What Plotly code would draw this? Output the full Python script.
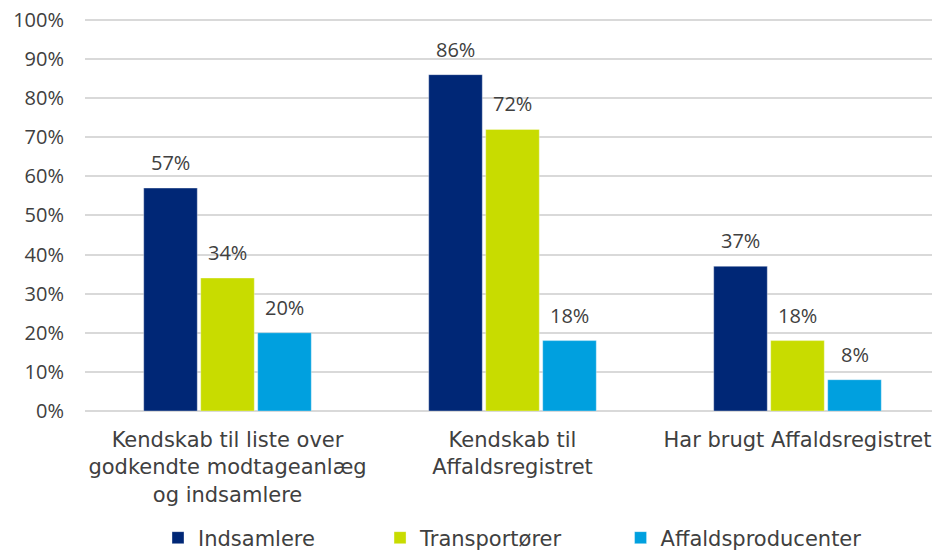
import plotly.graph_objects as go

categories = [
    "Kendskab til liste over<br>godkendte modtageanlæg<br>og indsamlere",
    "Kendskab til<br>Affaldsregistret",
    "Har brugt Affaldsregistret",
]
series_names = ["Indsamlere", "Transportører", "Affaldsproducenter"]
indsamlere = [57, 86, 37]
transportoerer = [34, 72, 18]
affaldsproducenter = [20, 18, 8]
series_values = [indsamlere, transportoerer, affaldsproducenter]
colors = ["#002776", "#C8DC00", "#00A0DF"]
y_ticks = [0, 10, 20, 30, 40, 50, 60, 70, 80, 90, 100]
y_tick_labels = [f"{t}%" for t in y_ticks]

NUM_FONT = "Open Sans"
TXT_FONT = "DejaVu Sans"
TXT = "#404040"
BARGAP = 0.40
n_series = len(series_names)
pad = ["\u00a0" * 9, "\u00a0" * 8, ""]

# page body has an 8px margin: figure is drawn 8px right/down
W, H = 932, 543

fig = go.Figure()
for j, (name, vals, col) in enumerate(zip(series_names, series_values, colors)):
    fig.add_trace(go.Bar(
        x=categories, y=vals, name=name + pad[j],
        marker=dict(color=col, line=dict(color="rgba(255,255,255,0.35)", width=1)),
    ))

slot = (1 - BARGAP) / n_series
annotations = []
for j, vals in enumerate(series_values):
    for i, v in enumerate(vals):
        annotations.append(dict(
            x=i + (j - (n_series - 1) / 2) * slot, y=v, xref="x", yref="y",
            text=f"{v}%", showarrow=False, yanchor="bottom", yshift=10,
            font=dict(family=NUM_FONT, size=20, color=TXT),
        ))

fig.update_layout(
    width=W, height=H,
    margin=dict(l=77, r=0, t=8, b=140, autoexpand=False),
    paper_bgcolor="white", plot_bgcolor="white",
    barmode="group", bargap=BARGAP, bargroupgap=0.06,
    font=dict(family=TXT_FONT, size=21, color=TXT),
    showlegend=True,
    legend=dict(orientation="h", x=0.5, xanchor="center",
                yref="container", y=1 - 530 / H, yanchor="middle",
                font=dict(family=TXT_FONT, size=21, color=TXT), itemwidth=30),
    annotations=annotations,
)
fig.update_xaxes(
    type="category", showgrid=False, showline=False, ticks="",
    ticklabelstandoff=14,
    tickfont=dict(family=TXT_FONT, size=21, color=TXT), automargin=False,
)
fig.update_yaxes(
    range=[0, 101], tickmode="array", tickvals=y_ticks, ticktext=y_tick_labels,
    showgrid=True, gridcolor="#D9D9D9", gridwidth=1.5,
    zeroline=True, zerolinecolor="#D9D9D9", zerolinewidth=1.5,
    showline=False, ticks="", ticklabelstandoff=20, ticklabeloverflow="allow",
    tickfont=dict(family=NUM_FONT, size=20, color=TXT), automargin=False,
)

fig.write_html("out.html")
